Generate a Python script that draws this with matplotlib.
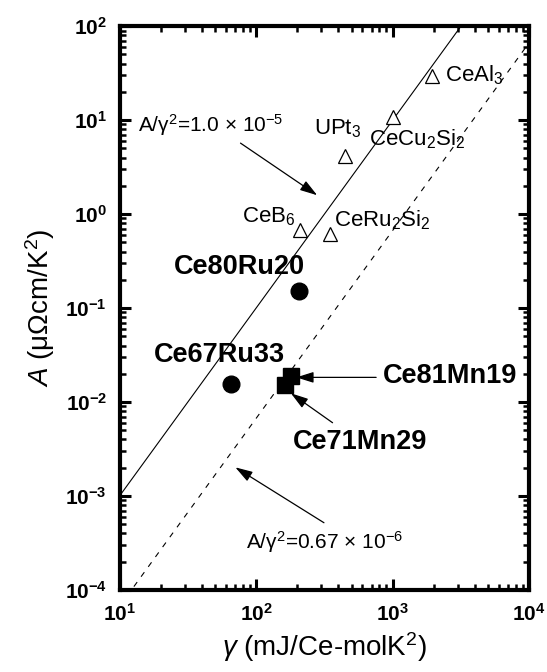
import matplotlib
matplotlib.use("Agg")
import matplotlib.pyplot as plt
import numpy as np
from matplotlib.ticker import LogLocator, FuncFormatter, NullFormatter

plt.rcParams['font.family'] = ['Liberation Sans', 'DejaVu Sans']
plt.rcParams['mathtext.fontset'] = 'custom'
plt.rcParams['mathtext.rm'] = 'Liberation Sans'
plt.rcParams['mathtext.it'] = 'Liberation Sans:italic'
plt.rcParams['mathtext.bf'] = 'Liberation Sans:bold'

# Reference heavy-fermion compounds (open triangles)
ref_names = ['CeAl$_3$', 'CeCu$_2$Si$_2$', 'UPt$_3$', 'CeB$_6$', 'CeRu$_2$Si$_2$']
ref_gamma = [1940, 1000, 448, 209, 346]
ref_A = [29.4, 10.7, 4.17, 0.676, 0.608]

# Ce-Ru alloys (filled circles)
ru_names = ['Ce80Ru20', 'Ce67Ru33']
ru_gamma = [207, 65.7]
ru_A = [0.152, 0.0154]

# Ce-Mn alloys (filled squares)
mn_names = ['Ce81Mn19', 'Ce71Mn29']
mn_gamma = [178.7, 161.6]
mn_A = [0.0190, 0.0151]

# Kadowaki-Woods type lines A = K * gamma^2
kw_solid = 1.0e-5
kw_dash = 0.67e-6

xlim = (10, 1e4)
ylim = (1e-4, 1e2)

fig = plt.figure(figsize=(5.47, 6.72), dpi=100)
ax = fig.add_axes([0.2185, 0.122, 0.749, 0.839])
ax.set_xscale('log')
ax.set_yscale('log')
ax.set_xlim(*xlim)
ax.set_ylim(*ylim)

g = np.logspace(1, 4, 200)
ax.plot(g, kw_solid * g**2, color='black', lw=0.8)
ax.plot(g, kw_dash * g**2, color='black', lw=0.8, dashes=(5, 6))

ax.plot(ref_gamma, ref_A, linestyle='none', marker='^', ms=9.5,
        mfc='white', mec='black', mew=0.9)
ax.plot(ru_gamma, ru_A, linestyle='none', marker='o', ms=12,
        mfc='black', mec='black')
ax.plot(mn_gamma, mn_A, linestyle='none', marker='s', ms=12,
        mfc='black', mec='black')

# Labels for reference compounds
fs_ref = 16
ax.text(2400, 30, ref_names[0], fontsize=fs_ref, va='center', ha='left')
ax.text(670, 6.3, ref_names[1], fontsize=fs_ref, va='center', ha='left')
ax.text(266, 8.2, ref_names[2], fontsize=fs_ref, va='center', ha='left')
ax.text(79, 0.93, ref_names[3], fontsize=fs_ref, va='center', ha='left')
ax.text(372, 0.86, ref_names[4], fontsize=fs_ref, va='center', ha='left')

# Bold sample labels
fs_b = 19.5
ax.text(24.9, 0.275, ru_names[0], fontsize=fs_b, fontweight='bold', va='center', ha='left')
ax.text(17.7, 0.0316, ru_names[1], fontsize=fs_b, fontweight='bold', va='center', ha='left')
ax.text(847, 0.0189, mn_names[0], fontsize=fs_b, fontweight='bold', va='center', ha='left')
ax.text(185, 0.00379, mn_names[1], fontsize=fs_b, fontweight='bold', va='center', ha='left')

arrow = dict(arrowstyle='-|>,head_length=0.7,head_width=0.22', color='black',
             lw=0.9, mutation_scale=15, shrinkA=0, shrinkB=0)
ax.annotate('', xy=(197, 0.01832), xytext=(757, 0.01832), arrowprops=arrow)
ax.annotate('', xy=(180, 0.0124), xytext=(363, 0.00603), arrowprops=arrow)

# Line annotations
ax.text(13.6, 8.85, 'A/γ$^2$=1.0 × 10$^{-5}$', fontsize=15, va='center', ha='left')
ax.annotate('', xy=(280, 1.59), xytext=(76.9, 5.7), arrowprops=arrow)
ax.text(85, 3.2e-4, 'A/γ$^2$=0.67 × 10$^{-6}$', fontsize=15, va='center', ha='left')
ax.annotate('', xy=(70.5, 2.02e-3), xytext=(314, 5.2e-4), arrowprops=arrow)

# Axes styling
for s in ax.spines.values():
    s.set_linewidth(3.0)
ax.xaxis.set_major_locator(LogLocator(base=10, numticks=10))
ax.yaxis.set_major_locator(LogLocator(base=10, numticks=10))
ax.xaxis.set_minor_locator(LogLocator(base=10, subs=np.arange(2, 10), numticks=20))
ax.yaxis.set_minor_locator(LogLocator(base=10, subs=np.arange(2, 10), numticks=20))
fmt = FuncFormatter(lambda v, p: r'$\mathbf{10^{%d}}$' % int(round(np.log10(v))))
ax.xaxis.set_major_formatter(fmt)
ax.yaxis.set_major_formatter(fmt)
ax.xaxis.set_minor_formatter(NullFormatter())
ax.yaxis.set_minor_formatter(NullFormatter())
ax.tick_params(which='both', direction='in', top=True, right=True)
ax.tick_params(which='major', length=8, width=2.2, labelsize=15, pad=9)
ax.tick_params(which='minor', length=4.5, width=1.8)

ax.set_xlabel(r'$\mathit{\gamma}$ (mJ/Ce-molK$^2$)', fontsize=20, labelpad=4)
ax.set_ylabel(r'$\mathit{A}$ (μΩcm/K$^2$)', fontsize=20, labelpad=6)

fig.savefig('out.png', dpi=100)
